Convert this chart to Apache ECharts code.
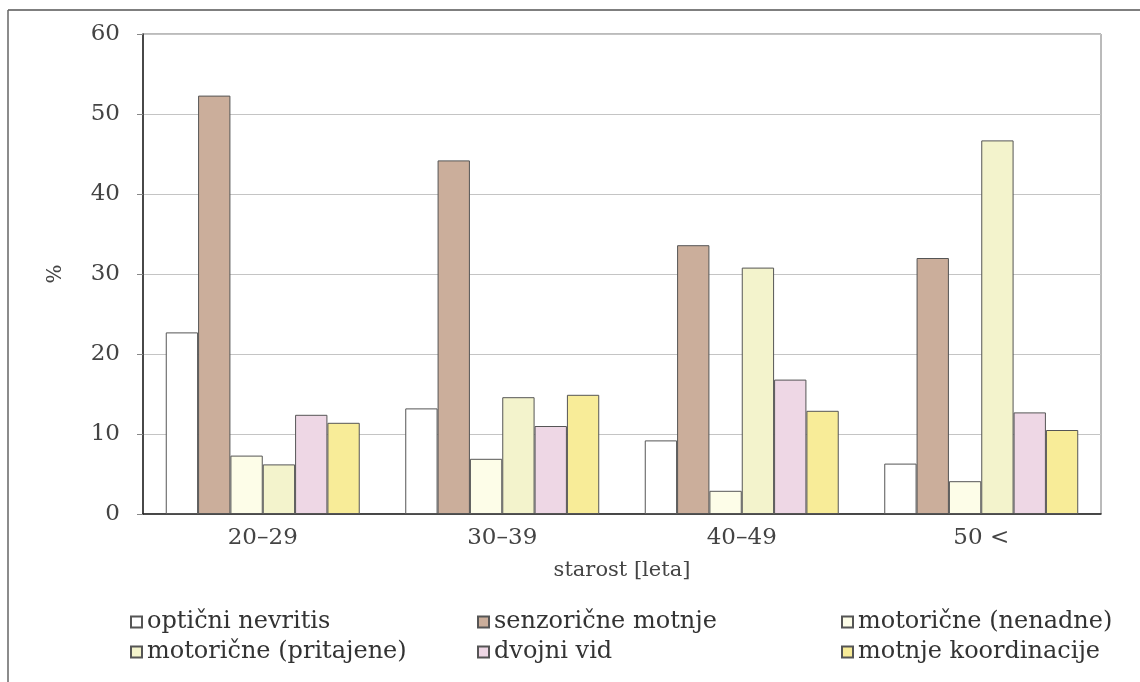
<!DOCTYPE html>
<html>
<head>
<meta charset="utf-8">
<script src="https://cdn.jsdelivr.net/npm/echarts@6/dist/echarts.min.js"></script>
<style>html,body{margin:0;padding:0;background:#fff;}#c{width:1140px;height:682px;}</style>
</head>
<body>
<div id="c"></div>
<script>
const categories = ['20–29', '30–39', '40–49', '50 <'];
const seriesNames = ['optični nevritis', 'senzorične motnje', 'motorične (nenadne)', 'motorične (pritajene)', 'dvojni vid', 'motnje koordinacije'];
const opticni = [22.7, 13.2, 9.2, 6.3];
const senzoricne = [52.3, 44.2, 33.6, 32.0];
const nenadne = [7.3, 6.9, 2.9, 4.1];
const pritajene = [6.2, 14.6, 30.8, 46.7];
const dvojni = [12.4, 11.0, 16.8, 12.7];
const koordinacije = [11.4, 14.9, 12.9, 10.5];
const yTicks = [0, 10, 20, 30, 40, 50, 60];

const values = [opticni, senzoricne, nenadne, pritajene, dvojni, koordinacije];
const colors = ['#ffffff', '#cbae9b', '#fdfde8', '#f3f3cc', '#eed7e5', '#f8ec98'];
const FONT = 'DejaVu Serif';

const legendPos = [
  {left: 125, top: 605}, {left: 472, top: 605}, {left: 836, top: 605},
  {left: 125, top: 635}, {left: 472, top: 635}, {left: 836, top: 635}
];

const chart = echarts.init(document.getElementById('c'), null, {renderer: 'canvas'});
chart.setOption({
  animation: false,
  backgroundColor: '#ffffff',
  textStyle: {fontFamily: FONT},
  grid: {left: 143, right: 39, top: 34, bottom: 168, show: true, borderColor: '#777', borderWidth: 1},
  graphic: [
    {type: 'line', shape: {x1: 8, y1: 10, x2: 1140, y2: 10}, style: {stroke: '#555', lineWidth: 1.5}},
    {type: 'line', shape: {x1: 8, y1: 10, x2: 8, y2: 682}, style: {stroke: '#666', lineWidth: 1.5}}
  ],
  legend: seriesNames.map((n, i) => ({
    data: [n], left: legendPos[i].left, top: legendPos[i].top,
    icon: 'rect', itemWidth: 11, itemHeight: 11, itemGap: 8,
    textStyle: {fontFamily: FONT, fontSize: 24, color: '#333'}
  })),
  xAxis: {
    type: 'category', data: categories,
    axisLine: {lineStyle: {color: '#222', width: 1.5}},
    axisTick: {show: false},
    axisLabel: {fontFamily: FONT, fontSize: 23, color: '#444', margin: 13},
    name: 'starost [leta]', nameLocation: 'middle', nameGap: 46,
    nameTextStyle: {fontFamily: FONT, fontSize: 21, color: '#444'}
  },
  yAxis: {
    type: 'value', min: 0, max: 60, interval: 10,
    axisLine: {show: true, lineStyle: {color: '#222', width: 1.5}},
    axisTick: {show: true, length: 6, lineStyle: {color: '#888'}},
    splitLine: {lineStyle: {color: '#c4c4c4'}},
    axisLabel: {fontFamily: FONT, fontSize: 23, color: '#444', margin: 23,
      formatter: v => yTicks.indexOf(v) >= 0 ? String(v) : ''},
    name: '%', nameLocation: 'middle', nameGap: 77, nameRotate: 90,
    nameTextStyle: {fontFamily: FONT, fontSize: 20, color: '#444'}
  },
  series: seriesNames.map((n, i) => ({
    name: n, type: 'bar', data: values[i],
    barGap: '0%', barCategoryGap: '19%',
    itemStyle: {color: colors[i], borderColor: '#555', borderWidth: 1}
  }))
});
</script>
</body>
</html>
